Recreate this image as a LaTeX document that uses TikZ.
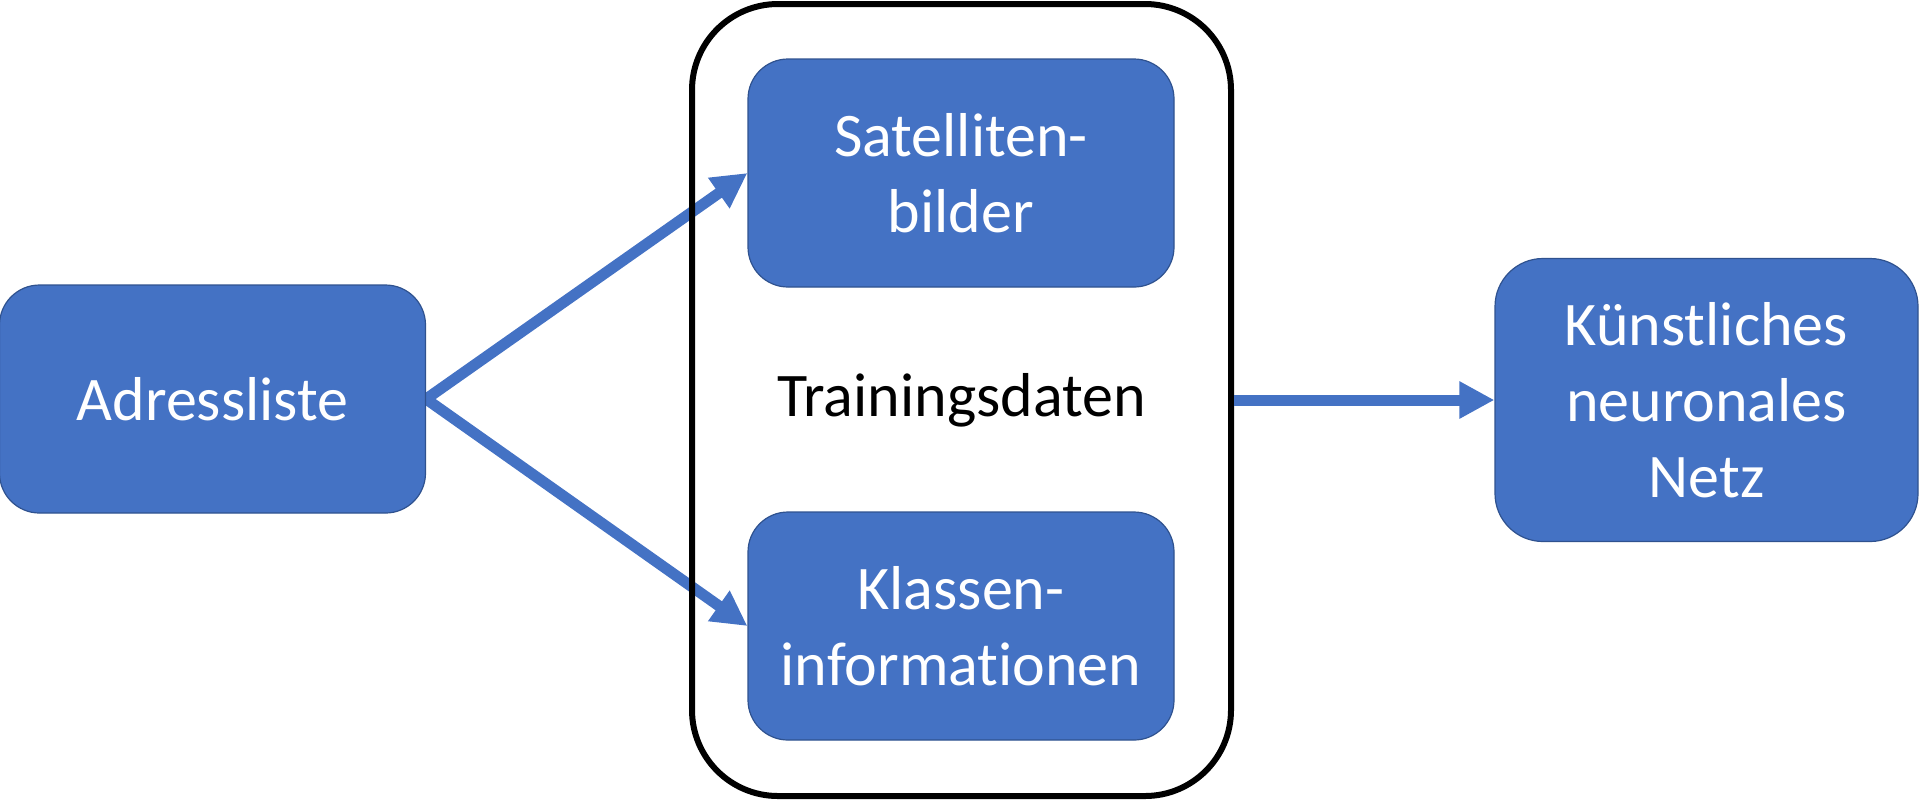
\documentclass[tikz,border=0pt]{standalone}
\usepackage{fontspec}
\setmainfont{Carlito}[Ligatures=NoCommon]
\usetikzlibrary{arrows.meta,positioning,backgrounds}
\definecolor{boxblue}{RGB}{68,114,196}
\definecolor{boxedge}{RGB}{47,82,143}

\begin{document}
\begin{tikzpicture}[x=0.5pt, y=-0.5pt,
  block/.style={rectangle, rounded corners=20pt, draw=boxedge, fill=boxblue,
                line width=0.6pt, text=white, align=center,
                minimum width=213pt, minimum height=114pt,
                font=\fontsize{31}{38}\selectfont},
  group/.style={rectangle, rounded corners=43pt, draw=black, line width=3pt,
                minimum width=269.5pt, minimum height=396pt,
                font=\fontsize{31}{38}\selectfont},
  flow/.style={-{Triangle[length=17.5pt, width=17.5pt]}, line width=5.5pt, boxblue},
]
\useasboundingbox (0,0) rectangle (1920,800);

% Nodes
\node[group] (train) at (961.5,400) {Trainingsdaten};
\node[block] (adr) at (212.5,399) {Adressliste};
\node[block] (sat) at (961,173) {Satelliten-\\bilder};
\node[block] (kla) at (961,626) {Klassen-\\informationen};
\node[block, minimum width=211.5pt, minimum height=141.5pt, rounded corners=24pt]
  (knn) at (1706.5,400) {Künstliches\\neuronales\\Netz};

% Arrows (below the group frame)
\begin{scope}[on background layer]
  \draw[flow] (adr.east) -- (sat.west);
  \draw[flow] (adr.east) -- (kla.west);
\end{scope}
\draw[flow] (train.east) -- (knn.west);

\end{tikzpicture}
\end{document}
